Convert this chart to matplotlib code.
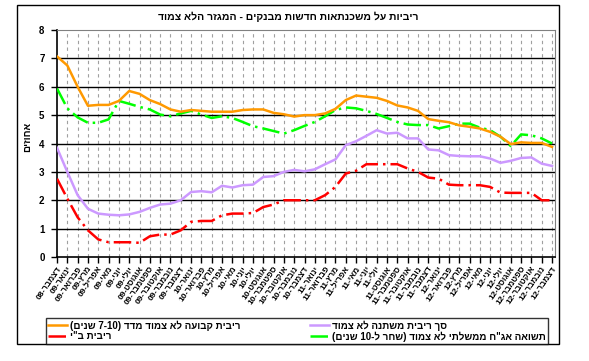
# Mortgage rates chart - non-indexed sector (Hebrew)

import re
import matplotlib
matplotlib.use("Agg")
import matplotlib.pyplot as plt
from matplotlib.patches import Rectangle

plt.rcParams['font.family'] = ['Liberation Sans', 'DejaVu Sans']
plt.rcParams['font.weight'] = 'bold'


# Hebrew is right-to-left, matplotlib draws left-to-right: reorder by hand
def vis(s):
    r = s[::-1]
    r = re.sub(r'[0-9][0-9\-\.]*[0-9]|[0-9]', lambda m: m.group(0)[::-1], r)
    return r.translate(str.maketrans('()', ')('))


# Data
months_he = ["ינואר", "פברואר", "מרץ", "אפריל", "מאי", "יוני",
             "יולי", "אוגוסט", "ספטמבר", "אוקטובר", "נובמבר", "דצמבר"]
years = ["09", "10", "11", "12"]
labels = ["דצמבר-08"] + [m + "-" + y for y in years for m in months_he]

fixed_rate = [7.07, 6.75, 6.0, 5.33, 5.36, 5.36, 5.5, 5.85, 5.75, 5.53, 5.39, 5.2,
              5.12, 5.18, 5.15, 5.12, 5.12, 5.12, 5.18, 5.2, 5.2, 5.08, 5.03, 4.95,
              5.0, 5.0, 5.06, 5.22, 5.53, 5.69, 5.65, 5.61, 5.5, 5.34, 5.27, 5.15,
              4.86, 4.8, 4.75, 4.64, 4.59, 4.53, 4.41, 4.24, 3.98, 4.04, 4.02, 4.02, 3.88]
boi_rate = [2.76, 2.06, 1.4, 0.94, 0.62, 0.52, 0.52, 0.52, 0.5, 0.73, 0.79, 0.79,
            0.94, 1.24, 1.27, 1.27, 1.47, 1.53, 1.53, 1.55, 1.76, 1.85, 2.0, 2.0,
            2.0, 2.0, 2.18, 2.47, 2.94, 3.04, 3.27, 3.27, 3.27, 3.27, 3.12, 3.0,
            2.8, 2.76, 2.55, 2.53, 2.53, 2.53, 2.47, 2.27, 2.26, 2.26, 2.26, 2.0, 2.0]
variable_rate = [3.85, 3.0, 2.18, 1.7, 1.53, 1.49, 1.47, 1.5, 1.59, 1.73, 1.85, 1.88,
                 2.0, 2.29, 2.32, 2.28, 2.51, 2.45, 2.53, 2.55, 2.82, 2.85, 3.0, 3.07,
                 3.02, 3.09, 3.27, 3.44, 3.94, 4.08, 4.27, 4.47, 4.35, 4.38, 4.18, 4.18,
                 3.79, 3.76, 3.59, 3.56, 3.55, 3.55, 3.47, 3.32, 3.39, 3.49, 3.51, 3.29, 3.21]
bond_yield = [5.94, 5.24, 4.92, 4.73, 4.73, 4.85, 5.5, 5.4, 5.29, 5.2, 5.02, 4.96,
              5.06, 5.15, 5.02, 4.9, 4.96, 4.9, 4.76, 4.61, 4.53, 4.44, 4.35, 4.47,
              4.62, 4.76, 4.96, 5.18, 5.27, 5.24, 5.15, 5.04, 4.9, 4.76, 4.67, 4.65,
              4.65, 4.53, 4.61, 4.7, 4.7, 4.56, 4.47, 4.24, 3.91, 4.32, 4.29, 4.18, 4.0]

names = ["ריבית קבועה לא צמוד מדד (7-10 שנים)",
         "ריבית ב\"י",
         "סך ריבית משתנה לא צמוד",
         "תשואה אג\"ח ממשלתי לא צמוד (שחר ל-10 שנים)"]
title = "ריביות על משכנתאות חדשות מבנקים - המגזר הלא צמוד"
ylabel = "אחוזים"

x = list(range(len(labels)))
dashdot = (0, (7, 2, 1, 2))

fig = plt.figure(figsize=(5.89, 3.61), dpi=100)
ax = fig.add_axes([57 / 589, 1 - 257 / 361, 498 / 589, 227 / 361])

h_fixed, = ax.plot(x, fixed_rate, color='#FF9900', lw=1.8, zorder=5)
h_boi, = ax.plot(x, boi_rate, color='#FF0000', lw=1.8, ls=dashdot, zorder=3)
h_var, = ax.plot(x, variable_rate, color='#CC99FF', lw=1.8, zorder=3)
h_bond, = ax.plot(x, bond_yield, color='#00FF00', lw=1.8, ls=dashdot, zorder=4)

# Axes
ax.set_xlim(0, 48.29)
ax.set_ylim(0, 8)
ax.set_yticks(range(0, 9))
ax.set_xticks(x)
ax.set_xticklabels([vis(l) for l in labels], rotation=55, ha='right',
                   rotation_mode='anchor', fontsize=6, fontweight='bold')
ax.tick_params(axis='y', labelsize=7, length=4, width=1, pad=5)
ax.tick_params(axis='x', length=4, width=1, pad=2)
for lab in ax.get_yticklabels():
    lab.set_fontweight('bold')

# Grid: horizontal black, vertical gray dashed
for v in range(1, 8):
    ax.axhline(v, color='black', lw=1, zorder=1)
for i in x[1:]:
    ax.axvline(i, color='#A0A0A0', lw=0.8, ls=(0, (3, 3)), zorder=0)

ax.spines['left'].set_linewidth(1.2)
ax.spines['bottom'].set_linewidth(1.2)
ax.spines['top'].set_color('#808080')
ax.spines['right'].set_color('#808080')

fig.text(288 / 589, 1 - 17 / 361, vis(title), ha='center', va='center',
         fontsize=7.5, fontweight='bold')
fig.text(27 / 589, 1 - 137 / 361, vis(ylabel), ha='center', va='center',
         rotation=90, fontsize=7, fontweight='bold')

leg = fig.legend([h_fixed, h_boi, h_var, h_bond], [vis(n) for n in names],
                 loc='center', ncol=2, mode='expand',
                 bbox_to_anchor=(46 / 589, 1 - 342 / 361, 502 / 589, 22 / 361),
                 fontsize=7, frameon=True, fancybox=False, handlelength=2.0,
                 handletextpad=0.3, labelspacing=0.1, borderpad=0.2,
                 borderaxespad=0)
leg.get_frame().set_edgecolor('black')
leg.get_frame().set_linewidth(1)
for t in leg.get_texts():
    t.set_fontweight('bold')

# Outer chart border
fig.add_artist(Rectangle((17 / 589, 1 - 344 / 361), 542 / 589, 339 / 361,
                         transform=fig.transFigure, fill=False,
                         edgecolor='black', lw=1))

fig.savefig("out.png", dpi=100)
